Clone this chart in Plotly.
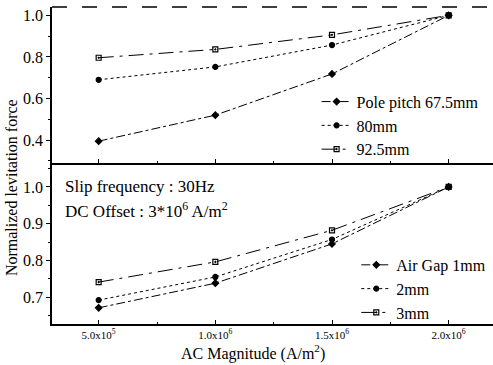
import plotly.graph_objects as go

x_vals = [5.0e5, 1.0e6, 1.5e6, 2.0e6]
x_tick_labels = ["5.0x10<sup>5</sup>", "1.0x10<sup>6</sup>", "1.5x10<sup>6</sup>", "2.0x10<sup>6</sup>"]

# Top panel: pole pitch
pole_675 = [0.395, 0.52, 0.718, 1.0]
pole_80 = [0.69, 0.752, 0.857, 1.0]
pole_925 = [0.796, 0.836, 0.906, 1.0]

# Bottom panel: air gap
gap_1 = [0.671, 0.738, 0.845, 1.0]
gap_2 = [0.692, 0.755, 0.857, 1.0]
gap_3 = [0.741, 0.796, 0.882, 1.0]

FONT = "Liberation Serif"
fig = go.Figure()

top_series = [
    ("Pole pitch 67.5mm", pole_675, "dashdot", "diamond"),
    ("80mm", pole_80, "dot", "circle"),
    ("92.5mm", pole_925, "longdashdot", "square-open-dot"),
]
for name, ys, dash, sym in top_series:
    fig.add_trace(go.Scatter(
        x=x_vals, y=ys, name=name, mode="lines+markers",
        line=dict(color="black", width=1, dash=dash),
        marker=dict(symbol=sym, size=5, color="black", line=dict(color="black", width=1.2)),
        xaxis="x2", yaxis="y2", legend="legend",
    ))

bot_series = [
    ("Air Gap 1mm", gap_1, "dashdot", "diamond"),
    ("2mm", gap_2, "dot", "circle"),
    ("3mm", gap_3, "longdashdot", "square-open-dot"),
]
for name, ys, dash, sym in bot_series:
    fig.add_trace(go.Scatter(
        x=x_vals, y=ys, name=name, mode="lines+markers",
        line=dict(color="black", width=1, dash=dash),
        marker=dict(symbol=sym, size=5, color="black", line=dict(color="black", width=1.2)),
        xaxis="x", yaxis="y", legend="legend2",
    ))

xr = [3.0e5, 2.19e6]
tickfont = dict(family=FONT, size=11, color="black")
yfont = dict(family=FONT, size=16, color="black")
legfont = dict(family=FONT, size=16, color="black")

fig.update_layout(
    width=493, height=365,
    margin=dict(l=52, r=0, t=7, b=41),
    plot_bgcolor="white", paper_bgcolor="white",
    font=dict(family=FONT, color="black", size=14),
    xaxis=dict(domain=[0, 1], range=xr, tickvals=x_vals, ticktext=x_tick_labels,
               tickfont=tickfont, showgrid=False, zeroline=False,
               showline=True, linecolor="black", linewidth=1.5,
               ticks="inside", ticklen=4, tickcolor="black",
               minor=dict(ticks="inside", ticklen=2, tickcolor="black", dtick=2.5e5),
               anchor="y"),
    yaxis=dict(domain=[0, 0.502], range=[0.627, 1.06], tickvals=[0.7, 0.8, 0.9, 1.0],
               ticktext=["0.7", "0.8", "0.9", "1.0"], tickfont=yfont,
               showgrid=False, zeroline=False, showline=True, linecolor="black", linewidth=1.5,
               ticks="outside", ticklen=4, tickcolor="black",
               minor=dict(ticks="outside", ticklen=2, tickcolor="black", dtick=0.05),
               anchor="x"),
    xaxis2=dict(domain=[0, 1], range=xr, tickvals=x_vals, showticklabels=False,
                showgrid=False, zeroline=False, showline=True, linecolor="black", linewidth=1.5,
                ticks="inside", ticklen=4, tickcolor="black",
                minor=dict(ticks="inside", ticklen=2, tickcolor="black", dtick=2.5e5),
                anchor="y2"),
    yaxis2=dict(domain=[0.508, 1], range=[0.29, 1.04], tickvals=[0.4, 0.6, 0.8, 1.0],
                ticktext=["0.4", "0.6", "0.8", "1.0"], tickfont=yfont,
                showgrid=False, zeroline=False, showline=True, linecolor="black", linewidth=1.5,
                ticks="outside", ticklen=4, tickcolor="black",
                minor=dict(ticks="outside", ticklen=2, tickcolor="black", dtick=0.1),
                anchor="x2"),
    legend=dict(x=0.60, y=0.755, xanchor="left", yanchor="top",
                font=legfont, bgcolor="rgba(0,0,0,0)", tracegroupgap=0, itemwidth=30),
    legend2=dict(x=0.69, y=0.24, xanchor="left", yanchor="top",
                 font=legfont, bgcolor="rgba(0,0,0,0)", tracegroupgap=0, itemwidth=30),
    showlegend=True,
)

# top border of upper panel (broken line in original)
fig.add_shape(type="line", xref="paper", yref="paper", x0=0, x1=1, y0=1, y1=1,
              line=dict(color="black", width=1.5, dash="longdash"))

fig.add_annotation(text="Normalized levitation force", xref="paper", yref="paper",
                   x=-0.092, y=0.43, xanchor="center", yanchor="middle",
                   textangle=-90, showarrow=False,
                   font=dict(family=FONT, size=16, color="black"))
fig.add_annotation(text="AC Magnitude (A/m<sup>2</sup>)", xref="paper", yref="paper",
                   x=0.456, y=-0.09, xanchor="center", yanchor="middle", showarrow=False,
                   font=dict(family=FONT, size=16, color="black"))
fig.add_annotation(text="Slip frequency : 30Hz", xref="paper", yref="paper",
                   x=0.025, y=0.433, xanchor="left", yanchor="middle", showarrow=False,
                   font=dict(family=FONT, size=17, color="black"))
fig.add_annotation(text="DC Offset : 3*10<sup>6</sup> A/m<sup>2</sup>", xref="paper", yref="paper",
                   x=0.025, y=0.36, xanchor="left", yanchor="middle", showarrow=False,
                   font=dict(family=FONT, size=17, color="black"))

fig.write_html("out.html")
